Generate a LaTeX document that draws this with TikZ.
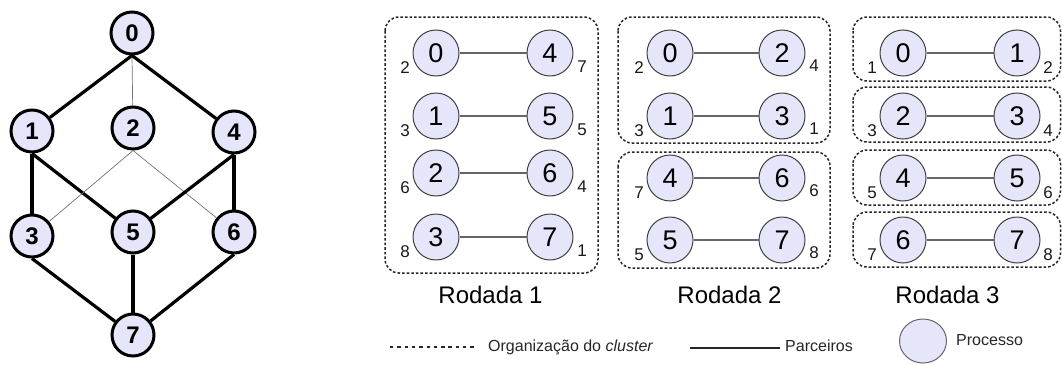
\documentclass[tikz,border=0pt]{standalone}
\usepackage{fontspec}
\setmainfont{Liberation Sans}
\usetikzlibrary{shapes.geometric}
\definecolor{proc}{RGB}{230,230,250}
\tikzset{
  gnode/.style={circle, draw=black, line width=3pt, fill=proc, minimum size=42pt,
    inner sep=0pt, font=\fontsize{24}{24}\selectfont\bfseries},
  strong/.style={line width=3.2pt},
  weak/.style={line width=0.7pt, draw=black!55},
  pnode/.style={circle, draw=black!75, line width=1pt, fill=proc, minimum size=46pt,
    inner sep=0pt, font=\fontsize{27}{27}\selectfont},
  pair/.style={line width=1.4pt, draw=black!60},
  rank/.style={font=\fontsize{17}{17}\selectfont, inner sep=0pt, text=black!90},
  cluster/.style={draw=black!85, line width=1.5pt, dash pattern=on 2.6pt off 2pt,
    rounded corners=14pt},
  title/.style={font=\fontsize{24}{24}\selectfont, anchor=base, inner sep=0pt},
  legend/.style={font=\fontsize{16}{16}\selectfont, anchor=base west, inner sep=0pt, text=black!85},
}
\begin{document}
\begin{tikzpicture}[x=1pt,y=-1pt]
\useasboundingbox (0,0) rectangle (1062,364);

% hypercube of processes
\node[gnode] (g0) at (132,33) {0};
\node[gnode] (g1) at (32,131) {1};
\node[gnode] (g2) at (133,128) {2};
\node[gnode] (g4) at (234,132) {4};
\node[gnode] (g3) at (32,236) {3};
\node[gnode] (g5) at (133,232) {5};
\node[gnode] (g6) at (234,232) {6};
\node[gnode] (g7) at (133,335) {7};

\draw[strong] (g0.south) -- (g1);
\draw[weak]   (g0.south) -- (g2);
\draw[strong] (g0.south) -- (g4);
\draw[strong] (g1.south) -- (g3);
\draw[strong] (g1.south) -- (g5);
\draw[weak]   (g2.south) -- (g3);
\draw[weak]   (g2.south) -- (g6);
\draw[strong] (g4.south) -- (g5);
\draw[strong] (g4.south) -- (g6);
\draw[strong] (g3.south) -- (g7);
\draw[strong] (g5.south) -- (g7);
\draw[strong] (g6.south) -- (g7);

% round 1
\draw[cluster] (385,17) rectangle (598,273);
\foreach \l/\r/\y/\ll/\rl in {0/4/53/2/7, 1/5/116/3/5, 2/6/173/6/4, 3/7/237/8/1}{
  \node[pnode] (a\l) at (436,\y) {\l};
  \node[pnode] (b\r) at (550,\y) {\r};
  \draw[pair] (a\l) -- (b\r);
  \node[rank] (ra\l) at (405,\y+15) {\ll};
  \node[rank] (rb\r) at (582,\y+14) {\rl};
}
\node[title] (t1) at (490.5,303) {Rodada 1};

% round 2
\draw[cluster] (618,17) rectangle (830,143);
\draw[cluster] (618,152) rectangle (830,268);
\foreach \l/\r/\y/\ll/\rl in {0/2/53/2/4, 1/3/116/3/1, 4/6/178/7/6, 5/7/240/5/8}{
  \node[pnode] (c\l) at (670,\y) {\l};
  \node[pnode] (d\r) at (782,\y) {\r};
  \draw[pair] (c\l) -- (d\r);
  \node[rank] (rc\l) at (639,\y+15) {\ll};
  \node[rank] (rd\r) at (814,\y+13) {\rl};
}
\node[title] (t2) at (729.5,303) {Rodada 2};

% round 3
\draw[cluster] (853,17) rectangle (1060.5,81);
\draw[cluster] (853,87) rectangle (1060.5,142);
\draw[cluster] (853,150) rectangle (1060.5,205);
\draw[cluster] (853,212) rectangle (1060.5,267);
\foreach \l/\r/\y/\ll/\rl in {0/1/53/1/2, 2/3/116/3/4, 4/5/178/5/6, 6/7/240/7/8}{
  \node[pnode] (e\l) at (903,\y) {\l};
  \node[pnode] (f\r) at (1017,\y) {\r};
  \draw[pair] (e\l) -- (f\r);
  \node[rank] (re\l) at (872,\y+15) {\ll};
  \node[rank] (rf\r) at (1048,\y+15) {\rl};
}
\node[title] (t3) at (947.5,303) {Rodada 3};

% legend
\coordinate (k1) at (390,347);
\coordinate (k2) at (477,347);
\draw[draw=black!85, line width=1.3pt, dash pattern=on 3.4pt off 3.9pt] (k1) -- (k2);
\node[legend] (l1) at (488,351) {Organização do \textit{cluster}};
\coordinate (k3) at (690,348);
\coordinate (k4) at (780,348);
\draw[line width=1.2pt, draw=black!85] (k3) -- (k4);
\node[legend] (l2) at (785,351) {Parceiros};
\node[ellipse, draw=black!60, line width=1pt, fill=proc, minimum width=47pt,
  minimum height=44pt, inner sep=0pt] (l3) at (923,341) {};
\node[legend] (l4) at (956,345) {Processo};
\end{tikzpicture}
\end{document}
